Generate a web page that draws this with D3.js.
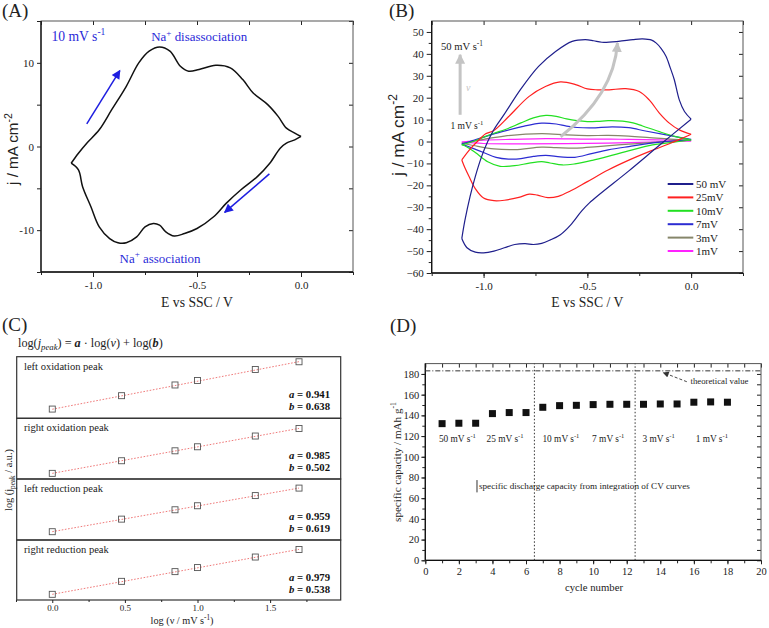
<!DOCTYPE html>
<html><head><meta charset="utf-8">
<script src="https://cdn.jsdelivr.net/npm/d3@7"></script>
<style>body{margin:0;background:#fff}</style>
</head><body>
<script>
// ---------------- DATA ----------------
// Panel A: CV at 10 mV/s  [E (V), j (mA cm-2)]
const cvA_up = [[-1.105,-2],[-1.07,-0.8],[-1.03,0.4],[-0.97,2],[-0.91,4.4],[-0.84,7.2],[-0.78,10],[-0.73,11.4],[-0.68,11.9],[-0.63,11.4],[-0.58,9.6],[-0.54,9.0],[-0.49,9.2],[-0.41,9.7],[-0.34,9.4],[-0.28,8],[-0.23,6.4],[-0.16,5],[-0.11,3.6],[-0.07,2.2],[-0.03,1.6],[0,1.2]];
const cvA_down = [[0,1.2],[-0.03,0.8],[-0.07,0.4],[-0.1,-0.2],[-0.15,-2],[-0.21,-3.6],[-0.29,-5.2],[-0.36,-6.8],[-0.42,-8.4],[-0.5,-9.8],[-0.56,-10.4],[-0.61,-10.7],[-0.65,-10.2],[-0.68,-9.4],[-0.71,-9.2],[-0.75,-9.6],[-0.79,-10.8],[-0.84,-11.5],[-0.88,-11.5],[-0.92,-11],[-0.97,-9.6],[-1.01,-7.2],[-1.05,-4.8],[-1.07,-2.8],[-1.105,-2]];

// Panel B: CVs at several scan rates
const cvNames = ["50 mV","25mV","10mV","7mV","3mV","1mV"];
const cvColors = ["#1f1f8c","#ff2020","#22e022","#2c2cd2","#86866a","#ff22ff"];
const cv50_up = [[-1.105,-44.3],[-1.09,-36],[-1.065,-25],[-1.04,-16],[-1.01,-7],[-0.98,0],[-0.95,5.5],[-0.9,12.5],[-0.82,24],[-0.735,34.3],[-0.653,41.1],[-0.573,45.7],[-0.51,46.5],[-0.47,46],[-0.43,45.3],[-0.35,45.7],[-0.28,46.5],[-0.234,46.8],[-0.19,46.3],[-0.169,45],[-0.145,42.5],[-0.121,38.9],[-0.1,33.5],[-0.081,28.2],[-0.057,19],[-0.032,13.7],[0,10.2]];
const cv50_down = [[0,10.2],[-0.15,-1.5],[-0.3,-13.4],[-0.49,-28],[-0.53,-32],[-0.58,-38],[-0.63,-42.5],[-0.68,-45],[-0.72,-46.5],[-0.76,-47],[-0.8,-46.6],[-0.85,-47],[-0.9,-48.5],[-0.95,-50],[-1.0,-50.8],[-1.04,-50.5],[-1.08,-48.5],[-1.105,-44.3]];
const cv25_up = [[-1.105,-8.4],[-1.07,-4],[-1.03,0],[-0.99,3.5],[-0.951,5],[-0.879,11.4],[-0.782,20.5],[-0.702,25.1],[-0.63,27.2],[-0.557,26],[-0.5,24],[-0.45,23.6],[-0.395,23.6],[-0.315,24.1],[-0.25,22.8],[-0.202,19],[-0.153,13],[-0.105,8.4],[-0.057,5.3],[0,3.3]];
const cv25_down = [[0,3.3],[-0.05,1.2],[-0.1,-0.8],[-0.2,-4.5],[-0.3,-8.5],[-0.4,-13],[-0.5,-18.3],[-0.58,-22.5],[-0.64,-25],[-0.69,-25.6],[-0.74,-24.5],[-0.78,-24],[-0.83,-25.5],[-0.9,-26.8],[-0.95,-27],[-1.0,-25.8],[-1.04,-21.5],[-1.07,-16],[-1.09,-12],[-1.105,-8.4]];
const cv10_up = [[-1.105,-1.5],[-1.05,0],[-1.0,2],[-0.95,3.8],[-0.895,5.5],[-0.82,8.5],[-0.76,10.8],[-0.7,11.9],[-0.65,11.5],[-0.6,10.3],[-0.55,9.5],[-0.5,9.1],[-0.45,9.2],[-0.4,9.5],[-0.33,9.3],[-0.28,8.5],[-0.234,7.1],[-0.153,4.5],[-0.073,2.2],[0,0.7]];
const cv10_down = [[0,0.7],[-0.1,-0.5],[-0.186,-1.5],[-0.315,-4.6],[-0.4,-6.8],[-0.476,-8.6],[-0.56,-10.2],[-0.62,-10.7],[-0.68,-9.8],[-0.72,-9.2],[-0.78,-9.9],[-0.85,-11],[-0.92,-11.3],[-0.98,-9.2],[-1.04,-5],[-1.08,-2.5],[-1.105,-1.5]];
const cv7_up = [[-1.105,-1.2],[-1.05,0.5],[-1.0,2],[-0.911,4.5],[-0.815,6.8],[-0.72,8.4],[-0.65,8],[-0.6,7],[-0.55,6.4],[-0.48,6.2],[-0.38,6.7],[-0.3,6.3],[-0.22,4.8],[-0.12,3],[0,1]];
const cv7_down = [[0,0.8],[-0.15,-0.3],[-0.3,-2.3],[-0.4,-3.8],[-0.48,-5.5],[-0.56,-7.2],[-0.63,-7],[-0.7,-6.3],[-0.76,-6.8],[-0.82,-7.8],[-0.88,-8],[-0.94,-7.2],[-1.0,-5],[-1.06,-2.8],[-1.105,-1.2]];
const cv3_up = [[-1.105,-0.8],[-1.0,1],[-0.9,2.5],[-0.72,3.6],[-0.6,3],[-0.5,2.7],[-0.4,2.8],[-0.3,2.5],[-0.2,1.8],[-0.1,1.1],[0,0.6]];
const cv3_down = [[0,0.6],[-0.15,-0.2],[-0.3,-1.2],[-0.45,-2.3],[-0.55,-3],[-0.65,-2.8],[-0.72,-2.6],[-0.85,-3.7],[-0.95,-3.4],[-1.05,-1.8],[-1.105,-0.8]];
const cv1_up = [[-1.105,-0.3],[-1.0,0.6],[-0.85,1],[-0.7,1.3],[-0.5,1.1],[-0.3,1.0],[-0.1,0.6],[0,0.3]];
const cv1_down = [[0,0.3],[-0.2,-0.3],[-0.4,-0.7],[-0.6,-1.0],[-0.8,-1.1],[-1.0,-0.9],[-1.105,-0.3]];
const cvB = [[cv50_up,cv50_down],[cv25_up,cv25_down],[cv10_up,cv10_down],[cv7_up,cv7_down],[cv3_up,cv3_down],[cv1_up,cv1_down]];

// Panel C: log(j_peak) vs log(scan rate)
const logRate = [0, 0.477, 0.845, 1.0, 1.398, 1.699];
const peakNames = ["left oxidation peak","right oxidation peak","left reduction peak","right reduction peak"];
const peakLogJ = [
  [-0.19, 0.26, 0.62, 0.77, 1.14, 1.40],
  [-0.30, 0.17, 0.54, 0.69, 1.09, 1.37],
  [-0.21, 0.26, 0.61, 0.76, 1.14, 1.42],
  [-0.27, 0.21, 0.57, 0.72, 1.11, 1.39]];
const fitA = [0.941, 0.985, 0.959, 0.979];
const fitB = [0.638, 0.502, 0.619, 0.538];
const peakDomains = [[-0.50,1.57],[-0.51,1.75],[-0.52,1.76],[-0.48,1.74]];
const cTicks = [0, 0.5, 1.0, 1.5];

// Panel D: specific capacity per cycle
const cycles = [1,2,3,4,5,6,7,8,9,10,11,12,13,14,15,16,17,18];
const capacity = [132,132.4,132.4,141.7,142.7,142.7,147.8,149.4,149.7,150.4,150.7,150.7,150.7,151,151,152.7,153,152.7];
const theoretical = 183;
const rateBounds = [6.5, 12.5];
const rateLabels = ["50 mV s","25 mV s","10 mV s","7 mV s","3 mV s","1 mV s"];
const rateLabelX = [1.91, 4.75, 8.08, 10.9, 13.9, 17.07];

// ---------------- DRAWING ----------------
const SERIF = "'Liberation Serif','Times New Roman',serif";
const SANS = "'Liberation Sans',Arial,sans-serif";
const svg = d3.select("body").append("svg").attr("width",769).attr("height",628)
  .style("font-family",SERIF).style("background","#fff");

const defs = svg.append("defs");
function marker(id, color, w, h) {
  defs.append("marker").attr("id",id).attr("viewBox","0 0 10 10").attr("refX",9).attr("refY",5)
    .attr("markerWidth",w).attr("markerHeight",h).attr("orient","auto").attr("markerUnits","userSpaceOnUse")
    .append("path").attr("d","M0,0L10,5L0,10z").attr("fill",color);
}
marker("arrBlue","#1e1ee0",10,9);
marker("arrGray","#c4c4c4",10,10);
marker("arrBlack","#333",7,6);

function styleAxis(a, fs) {
  a.attr("font-family",SERIF).attr("font-size",fs||11);
  a.select(".domain").remove();
  a.selectAll(".tick line").attr("stroke","#222");
  a.selectAll(".tick text").attr("fill","#222");
  return a;
}
function addAxis(g, gen, tx, ty, fs) {
  return styleAxis(g.append("g").attr("transform",`translate(${tx},${ty})`).call(gen), fs);
}
// fit a text element's font size so its rendered width equals a target width (px)
function fitW(t, target) {
  const w = t.node().getComputedTextLength();
  if (w > 0) t.attr("font-size", (+t.attr("font-size")) * target / w);
  return t;
}
function rich(g, x, y, parts, fs, anchor, rotate, fill, family) {
  const t = g.append("text").attr("x",x).attr("y",y).attr("font-size",fs)
    .attr("text-anchor",anchor||"start").attr("fill",fill||"#222");
  if (family) t.attr("font-family", family);
  if (rotate) t.attr("transform",`rotate(-90,${x},${y})`);
  let cur = 0;
  parts.forEach(p => {
    const target = p.sup ? -0.42 : p.sub ? 0.28 : 0;
    const s = (p.sup || p.sub) ? 0.7 : 1;
    const ts = t.append("tspan").text(p.t).attr("dy", ((target-cur)/s).toFixed(3)+"em");
    if (s !== 1) ts.attr("font-size", s+"em");
    cur = target;
    if (p.i) ts.attr("font-style","italic");
    if (p.b) ts.attr("font-weight","bold");
  });
  return t;
}
function frame(g, x0, y0, x1, y1) {
  g.append("rect").attr("x",x0).attr("y",y0).attr("width",x1-x0).attr("height",y1-y0)
    .attr("fill","none").attr("stroke","#555").attr("stroke-width",1);
  g.append("line").attr("x1",x0).attr("x2",x0).attr("y1",y0).attr("y2",y1).attr("stroke","#111").attr("stroke-width",1.3);
  g.append("line").attr("x1",x0).attr("x2",x1).attr("y1",y1).attr("y2",y1).attr("stroke","#111").attr("stroke-width",1.3);
}
const fmt1 = v => v.toFixed(1);

// ===== Panel A =====
{
  const g = svg.append("g");
  const x = d3.scaleLinear().domain([-1.25,0.25]).range([41,353]);
  const y = d3.scaleLinear().domain([-15,15]).range([272,21]);
  const xMinor = d3.range(-1.25,0.26,0.25);
  addAxis(g, d3.axisBottom(x).tickValues(xMinor).tickSize(3).tickFormat(""), 0, 272);
  addAxis(g, d3.axisBottom(x).tickValues([-1,-0.5,0]).tickSize(5).tickPadding(4).tickFormat(fmt1), 0, 272);
  addAxis(g, d3.axisTop(x).tickValues(xMinor).tickSize(-4).tickFormat(""), 0, 21);
  addAxis(g, d3.axisLeft(y).tickValues([-15,-10,-5,0,5,10,15]).tickSize(4).tickPadding(3).tickFormat(v => (v%10===0 ? v : "")), 41, 0);
  addAxis(g, d3.axisRight(y).tickValues([-15,-10,-5,0,5,10,15]).tickSize(-4).tickFormat(""), 353, 0);
  frame(g, 41, 21, 353, 272);
  const line = d3.line().x(d=>x(d[0])).y(d=>y(d[1])).curve(d3.curveCatmullRom.alpha(0.5));
  [cvA_up, cvA_down].forEach(b => g.append("path").attr("d",line(b)).attr("fill","none").attr("stroke","#111").attr("stroke-width",1.5));
  const arr = [[[-1.03,2.7],[-0.871,9.07]],[[-0.152,-3.28],[-0.367,-7.87]]];
  arr.forEach(a => g.append("line").attr("x1",x(a[0][0])).attr("y1",y(a[0][1])).attr("x2",x(a[1][0])).attr("y2",y(a[1][1]))
     .attr("stroke","#1e1ee0").attr("stroke-width",1.5).attr("marker-end","url(#arrBlue)"));
  const blue = "#2a2ad8";
  fitW(rich(g, x(-1.2), y(12.6), [{t:"10 mV s"},{t:"-1",sup:true}], 13.5, "start", false, blue), 54);
  fitW(rich(g, x(-0.72), y(12.6), [{t:"Na"},{t:"+",sup:true},{t:" disassociation"}], 13, "start", false, blue), 96);
  fitW(rich(g, x(-0.872), y(-13.9), [{t:"Na"},{t:"+",sup:true},{t:" association"}], 13, "start", false, blue), 81);
  fitW(rich(g, 197, 307, [{t:"E vs SSC / V"}], 14, "middle"), 72);
  fitW(rich(g, 18, 149, [{t:"j / mA cm"},{t:"-2",sup:true}], 15, "middle", true, "#222", SANS), 72);
  g.append("text").attr("x",2).attr("y",17).attr("font-size",19).attr("fill","#222").text("(A)");
}

// ===== Panel B =====
{
  const g = svg.append("g");
  const x = d3.scaleLinear().domain([-1.25,0.25]).range([431.7,743]);
  const y = d3.scaleLinear().domain([-60,55]).range([273,21]);
  const xMinor = d3.range(-1.25,0.26,0.25);
  addAxis(g, d3.axisBottom(x).tickValues(xMinor).tickSize(3).tickFormat(""), 0, 273);
  addAxis(g, d3.axisBottom(x).tickValues([-1,-0.5,0]).tickSize(5).tickPadding(4).tickFormat(fmt1), 0, 273);
  addAxis(g, d3.axisTop(x).tickValues(xMinor).tickSize(-4).tickFormat(""), 0, 21);
  addAxis(g, d3.axisLeft(y).tickValues(d3.range(-55,55,10)).tickSize(3).tickFormat(""), 431.7, 0);
  addAxis(g, d3.axisLeft(y).tickValues(d3.range(-60,51,10)).tickSize(5).tickPadding(3), 431.7, 0);
  addAxis(g, d3.axisRight(y).tickValues(d3.range(-60,51,10)).tickSize(-4).tickFormat(""), 743, 0);
  frame(g, 431.7, 21, 743, 273);
  const line = d3.line().x(d=>x(d[0])).y(d=>y(d[1])).curve(d3.curveCatmullRom.alpha(0.5));
  for (let i = cvB.length-1; i >= 0; i--) {
    cvB[i].forEach(b => g.append("path").attr("d",line(b)).attr("fill","none")
      .attr("stroke",cvColors[i]).attr("stroke-width",1.2));
  }
  g.append("line").attr("x1",x(-1.113)).attr("y1",y(12.2)).attr("x2",x(-1.113)).attr("y2",y(39.6))
    .attr("stroke","#c4c4c4").attr("stroke-width",3).attr("marker-end","url(#arrGray)");
  const p = d3.path();
  p.moveTo(x(-0.629),y(2.2)); p.quadraticCurveTo(x(-0.371),y(21.3),x(-0.355),y(45));
  g.append("path").attr("d",p.toString()).attr("fill","none").attr("stroke","#c4c4c4").attr("stroke-width",3).attr("marker-end","url(#arrGray)");
  fitW(rich(g, x(-1.205), y(41.6), [{t:"50 mV s"},{t:"-1",sup:true}], 11.5, "start"), 42);
  fitW(rich(g, x(-1.16), y(5.5), [{t:"1 mV s"},{t:"-1",sup:true}], 11.5, "start"), 33);
  g.append("text").attr("x",x(-1.085)).attr("y",y(23)).attr("font-size",10).attr("fill","#c4c4c4").attr("font-style","italic").text("ν");
  const lg = g.append("g");
  cvNames.forEach((n,i) => {
    const yy = 184 + i*13.4;
    lg.append("line").attr("x1",667.7).attr("x2",693.3).attr("y1",yy).attr("y2",yy).attr("stroke",cvColors[i]).attr("stroke-width",2);
    lg.append("text").attr("x",696).attr("y",yy+4).attr("font-size",11).attr("fill","#222").text(n);
  });
  fitW(rich(g, 587.3, 307, [{t:"E vs SSC / V"}], 14, "middle"), 72);
  fitW(rich(g, 404, 135, [{t:"j / mA cm"},{t:"-2",sup:true}], 15, "middle", true, "#222", SANS), 82);
  g.append("text").attr("x",389).attr("y",17).attr("font-size",19).attr("fill","#222").text("(B)");
}

// ===== Panel C =====
{
  const g = svg.append("g");
  const x = d3.scaleLinear().domain([-0.245,1.986]).range([16.7,340.7]);
  const bounds = [356.7, 418.3, 479, 540, 600];
  peakNames.forEach((name,k) => {
    const y = d3.scaleLinear().domain(peakDomains[k]).range([bounds[k+1], bounds[k]]);
    g.append("rect").attr("x",16.7).attr("y",bounds[k]).attr("width",324).attr("height",bounds[k+1]-bounds[k])
      .attr("fill","none").attr("stroke","#333").attr("stroke-width",1.2);
    const logB = Math.log10(fitB[k]);
    const fit = [[logRate[0], fitA[k]*logRate[0]+logB],[logRate[5], fitA[k]*logRate[5]+logB]];
    g.append("line").attr("x1",x(fit[0][0])).attr("y1",y(fit[0][1])).attr("x2",x(fit[1][0])).attr("y2",y(fit[1][1]))
      .attr("stroke","#f07a7a").attr("stroke-width",1).attr("stroke-dasharray","1.6,1.6");
    g.selectAll(null).data(logRate.map((v,i)=>[v,peakLogJ[k][i]])).join("rect")
      .attr("x",d=>x(d[0])-3).attr("y",d=>y(d[1])-3).attr("width",6).attr("height",6)
      .attr("fill","none").attr("stroke","#555").attr("stroke-width",0.9);
    const nt = g.append("text").attr("class","pname").attr("x",24).attr("y",bounds[k]+13).attr("font-size",10.7).attr("fill","#222").text(name);
    if (k === 0) fitW(nt, 79);
    const ta = g.append("text").attr("x",330).attr("y",bounds[k]+41).attr("font-size",11.5).attr("font-weight","bold").attr("text-anchor","end").attr("fill","#111");
    ta.append("tspan").attr("font-style","italic").text("a");
    ta.append("tspan").text(" = " + fitA[k].toFixed(3));
    fitW(ta, 41);
    const tb = g.append("text").attr("x",330).attr("y",bounds[k]+53).attr("font-size",11.5).attr("font-weight","bold").attr("text-anchor","end").attr("fill","#111");
    tb.append("tspan").attr("font-style","italic").text("b");
    tb.append("tspan").text(" = " + fitB[k].toFixed(3));
    tb.attr("font-size", ta.attr("font-size"));
  });
  const names = g.selectAll("text.pname");
  names.attr("font-size", names.nodes()[0].getAttribute("font-size"));
  addAxis(g, d3.axisBottom(x).tickValues([-0.25,0.25,0.75,1.25,1.75]).tickSize(2).tickFormat(""), 0, 600);
  addAxis(g, d3.axisBottom(x).tickValues(cTicks).tickSize(3).tickPadding(2).tickFormat(fmt1), 0, 600, 9);
  fitW(rich(g, 182, 624, [{t:"log (ν / mV s"},{t:"-1",sup:true},{t:")"}], 10.5, "middle"), 63);
  fitW(rich(g, 12, 480, [{t:"log (j"},{t:"peak",sub:true},{t:" / a.u.)"}], 11, "middle", true), 62);
  const f = g.append("text").attr("x",18).attr("y",347).attr("font-size",12.5).attr("fill","#222");
  f.append("tspan").text("log(");
  f.append("tspan").attr("font-style","italic").text("j");
  f.append("tspan").attr("font-style","italic").attr("font-size","0.72em").attr("dy","0.33em").text("peak");
  f.append("tspan").attr("dy","-0.24em").text(") = ");
  f.append("tspan").attr("font-style","italic").attr("font-weight","bold").text("a");
  f.append("tspan").text(" · log(");
  f.append("tspan").attr("font-style","italic").text("ν");
  f.append("tspan").text(") + log(");
  f.append("tspan").attr("font-style","italic").attr("font-weight","bold").text("b");
  f.append("tspan").text(")");
  fitW(f, 145);
  g.append("text").attr("x",2).attr("y",331).attr("font-size",19).attr("fill","#222").text("(C)");
}

// ===== Panel D =====
{
  const g = svg.append("g");
  const x = d3.scaleLinear().domain([0,20]).range([425.3,761]);
  const y = d3.scaleLinear().domain([0,190]).range([560.3,363.6]);
  addAxis(g, d3.axisBottom(x).tickValues(d3.range(0,21,1)).tickSize(3).tickFormat(""), 0, 560.3);
  addAxis(g, d3.axisBottom(x).tickValues(d3.range(0,21,2)).tickSize(4).tickPadding(3), 0, 560.3, 10.5);
  addAxis(g, d3.axisTop(x).tickValues(d3.range(0,21,1)).tickSize(-4).tickFormat(""), 0, 363.6);
  addAxis(g, d3.axisLeft(y).tickValues(d3.range(0,190,10)).tickSize(3).tickFormat(""), 425.3, 0);
  addAxis(g, d3.axisLeft(y).tickValues(d3.range(0,181,20)).tickSize(4).tickPadding(2), 425.3, 0, 10.5);
  addAxis(g, d3.axisRight(y).tickValues(d3.range(0,190,10)).tickSize(-4).tickFormat(""), 761, 0);
  frame(g, 425.3, 363.6, 761, 560.3);
  rateBounds.forEach(b => g.append("line").attr("x1",x(b)).attr("x2",x(b)).attr("y1",y(0)).attr("y2",y(190))
    .attr("stroke","#333").attr("stroke-width",1).attr("stroke-dasharray","1.5,2"));
  g.append("line").attr("x1",x(0)).attr("x2",x(20)).attr("y1",y(theoretical)).attr("y2",y(theoretical))
    .attr("stroke","#333").attr("stroke-width",1).attr("stroke-dasharray","5,2,1,2");
  g.selectAll(null).data(cycles.map((c,i)=>[c,capacity[i]])).join("rect")
    .attr("x",d=>x(d[0])-3.5).attr("y",d=>y(d[1])-3.5).attr("width",7).attr("height",7).attr("fill","#111");
  const first = fitW(rich(g, x(rateLabelX[0]), y(114.6), [{t:rateLabels[0]},{t:"-1",sup:true}], 10, "middle"), 37);
  const rfs = first.attr("font-size");
  rateLabels.slice(1).forEach((t,i) => rich(g, x(rateLabelX[i+1]), y(114.6), [{t},{t:"-1",sup:true}], rfs, "middle"));
  g.append("line").attr("x1",x(3.08)).attr("x2",x(3.08)).attr("y1",y(77.5)).attr("y2",y(65.6)).attr("stroke","#333").attr("stroke-width",1);
  fitW(g.append("text").attr("x",x(3.2)).attr("y",y(69)).attr("font-size",10).attr("fill","#222").text("specific discharge capacity from integration of CV curves"), 211);
  g.append("line").attr("x1",x(15.58)).attr("y1",y(172.5)).attr("x2",x(14.18)).attr("y2",y(181.3))
    .attr("stroke","#333").attr("stroke-width",0.9).attr("stroke-dasharray","3,2").attr("marker-end","url(#arrBlack)");
  fitW(g.append("text").attr("x",x(15.8)).attr("y",y(170.3)).attr("font-size",10).attr("fill","#222").text("theoretical value"), 58);
  fitW(rich(g, 594, 591, [{t:"cycle number"}], 11.5, "middle"), 58);
  fitW(rich(g, 401, 462, [{t:"specific capacity / mAh g"},{t:"-1",sup:true}], 11.5, "middle", true), 120);
  g.append("text").attr("x",390).attr("y",332).attr("font-size",19).attr("fill","#222").text("(D)");
}
</script>
</body></html>
